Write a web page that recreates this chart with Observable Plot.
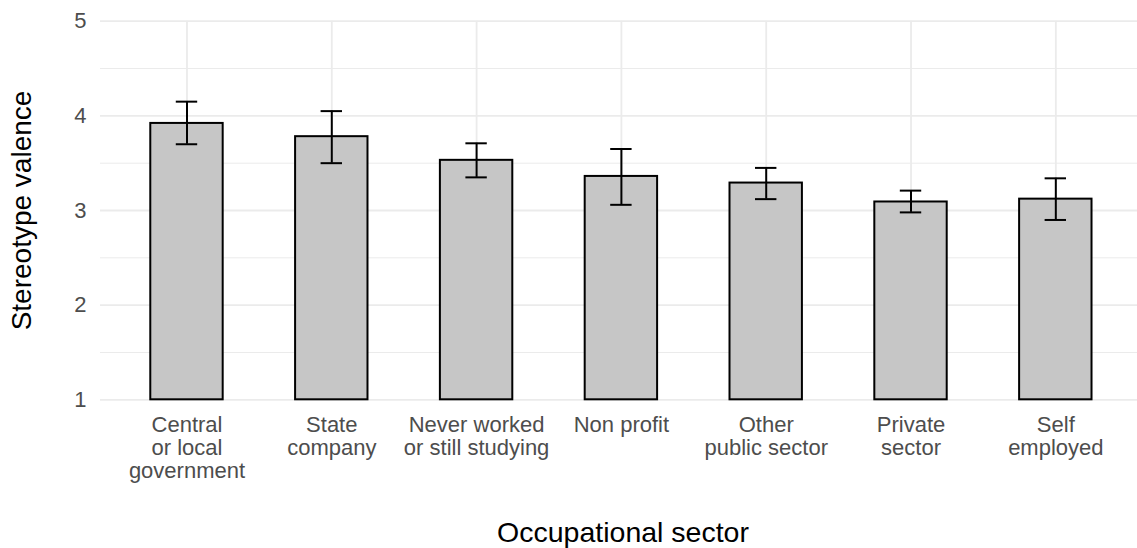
<!DOCTYPE html>
<html>
<head>
<meta charset="utf-8">
<script src="https://cdn.jsdelivr.net/npm/d3@7"></script>
<script src="https://cdn.jsdelivr.net/npm/@observablehq/plot@0.6"></script>
<style>
  html, body { margin: 0; padding: 0; background: #ffffff; }
  #chart svg { display: block; }
</style>
</head>
<body>
<div id="chart"></div>
<script>
// Mean stereotype valence by occupational sector, with error bar bounds
const sectors = [
  "Central\nor local\ngovernment",
  "State\ncompany",
  "Never worked\nor still studying",
  "Non profit",
  "Other\npublic sector",
  "Private\nsector",
  "Self\nemployed"
];
const means = [3.92, 3.78, 3.53, 3.36, 3.29, 3.09, 3.12];
const lower = [3.70, 3.50, 3.35, 3.06, 3.12, 2.98, 2.90];
const upper = [4.15, 4.05, 3.71, 3.65, 3.45, 3.21, 3.34];

const baseline = 1;
const majorTicks = [1, 2, 3, 4, 5];
const minorTicks = [1.5, 2.5, 3.5, 4.5];

const yLabel = "Stereotype valence";
const xLabel = "Occupational sector";

const rows = sectors.map((s, i) => ({sector: s, mean: means[i], lo: lower[i], hi: upper[i]}));

const gridColor = "#ebebeb";

const chart = Plot.plot({
  width: 1137,
  height: 548,
  marginLeft: 100,
  marginRight: 0,
  marginTop: 20.7,
  marginBottom: 148.7,
  style: {fontFamily: "'Liberation Sans', Arial, sans-serif", background: "#ffffff"},
  x: {type: "band", domain: sectors, range: [99.6, 1142.2], paddingInner: 0.5, paddingOuter: 0.35, round: false},
  y: {domain: [1, 5]},
  marks: [
    Plot.gridY(minorTicks, {stroke: gridColor, strokeOpacity: 1, strokeWidth: 1}),
    Plot.gridY(majorTicks, {stroke: gridColor, strokeOpacity: 1, strokeWidth: 1.8}),
    Plot.gridX(sectors, {stroke: gridColor, strokeOpacity: 1, strokeWidth: 1.8}),
    Plot.barY(rows, {x: "sector", y1: () => baseline, y2: "mean", fill: "#c6c6c6", stroke: "#000000", strokeWidth: 2}),
    Plot.ruleX(rows, {x: "sector", y1: "lo", y2: "hi", stroke: "#000000", strokeWidth: 2}),
    Plot.tickY(rows, {x: "sector", y: "lo", stroke: "#000000", strokeWidth: 2, insetLeft: 25.5, insetRight: 25.5}),
    Plot.tickY(rows, {x: "sector", y: "hi", stroke: "#000000", strokeWidth: 2, insetLeft: 25.5, insetRight: 25.5}),
    Plot.axisY(majorTicks, {tickSize: 0, tickPadding: 14, fontSize: 22, fill: "#4d4d4d", tickFormat: d => String(d), label: null}),
    Plot.axisX({tickSize: 0, tickPadding: 16, fontSize: 22, fill: "#4d4d4d", lineHeight: 1.04, label: null}),
    Plot.text([yLabel], {frameAnchor: "left", rotate: -90, dx: -78, fontSize: 28, fill: "#000000", textAnchor: "middle", lineAnchor: "middle"}),
    Plot.text([xLabel], {frameAnchor: "bottom", dx: 4, dy: 142, fontSize: 28.5, fill: "#000000", textAnchor: "middle", lineAnchor: "bottom"})
  ]
});

document.getElementById("chart").appendChild(chart);
</script>
</body>
</html>
